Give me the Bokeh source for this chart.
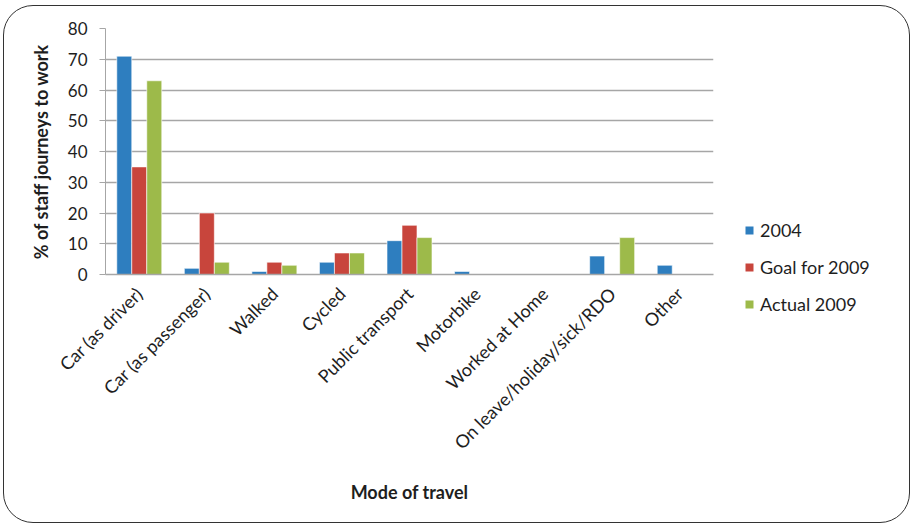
from bokeh.plotting import figure
from bokeh.models import ColumnDataSource, Legend, LegendItem, FactorRange, Range1d
from bokeh.layouts import row, column
from bokeh.transform import dodge
from bokeh.embed import file_html
from bokeh.resources import INLINE
import math

categories = ["Car (as driver)", "Car (as passenger)", "Walked", "Cycled",
              "Public transport", "Motorbike", "Worked at Home",
              "On leave/holiday/sick/RDO", "Other"]
series_names = ["2004", "Goal for 2009", "Actual 2009"]
v2004 = [71, 2, 1, 4, 11, 1, 0, 6, 3]
goal2009 = [35, 20, 4, 7, 16, 0, 0, 0, 0]
actual2009 = [63, 4, 3, 7, 12, 0, 0, 12, 0]
y_ticks = [0, 10, 20, 30, 40, 50, 60, 70, 80]

colors = ["#2e7ebf", "#c8453c", "#9dba4a"]
FONT = "Lato"
TXT = "#1e1e1e"

src = ColumnDataSource(dict(cat=categories, s0=v2004, s1=goal2009, s2=actual2009))

p = figure(width=724, height=516, x_range=FactorRange(*categories, range_padding=0),
           y_range=(0, 80), output_backend="svg", toolbar_location=None,
           min_border_left=101, min_border_right=15, min_border_top=22,
           min_border_bottom=248)
p.outline_line_color = None
p.background_fill_color = None
p.border_fill_color = None

bw = 0.222
for i, col in enumerate(["s0", "s1", "s2"]):
    p.vbar(x=dodge("cat", (i - 1) * bw, range=p.x_range), top=col, width=bw,
           source=src, fill_color=colors[i], line_color="white", line_width=0.6)

p.xgrid.grid_line_color = None
p.ygrid.grid_line_color = "#a6a6a6"
p.ygrid.grid_line_width = 1.3
p.yaxis.ticker = y_ticks
p.yaxis.axis_line_color = "#a6a6a6"
p.yaxis.major_tick_line_color = "#a6a6a6"
p.yaxis.major_tick_out = 6
p.yaxis.major_tick_in = 0
p.yaxis.minor_tick_line_color = None
p.yaxis.major_label_text_font = FONT
p.yaxis.major_label_text_font_size = "17px"
p.yaxis.major_label_text_color = TXT
p.yaxis.major_label_standoff = 12
p.yaxis.axis_label = "% of staff journeys to work"
p.yaxis.axis_label_text_font = FONT
p.yaxis.axis_label_text_font_style = "bold"
p.yaxis.axis_label_text_font_size = "18px"
p.yaxis.axis_label_text_color = TXT
p.yaxis.axis_label_standoff = 13

p.xaxis.axis_line_color = "#a6a6a6"
p.xaxis.axis_line_width = 1.3
p.xaxis.major_tick_line_color = None
p.xaxis.major_label_orientation = math.pi / 4
p.xaxis.major_label_text_font = FONT
p.xaxis.major_label_text_font_size = "18px"
p.xaxis.major_label_text_color = TXT
p.xaxis.major_label_standoff = 10
p.xaxis.axis_label = "Mode of travel"
p.xaxis.axis_label_text_font = FONT
p.xaxis.axis_label_text_font_style = "bold"
p.xaxis.axis_label_text_font_size = "18px"
p.xaxis.axis_label_text_color = TXT
p.xaxis.axis_label_standoff = 17

# legend panel: same series as proxies, drawn in a range where the bars are out of view
lp = figure(width=181, height=516, output_backend="svg", toolbar_location=None,
            min_border_left=0, min_border_right=0, min_border_top=0, min_border_bottom=0,
            x_range=FactorRange(*categories), y_range=Range1d(1000, 1001))
lp.axis.visible = False
lp.grid.visible = False
lp.outline_line_color = None
lp.background_fill_color = None
lp.border_fill_color = None
lr = [lp.vbar(x="cat", top=col, width=0.2, source=src, fill_color=c, line_color=None)
      for col, c in zip(["s0", "s1", "s2"], colors)]
legend = Legend(items=[LegendItem(label=n, renderers=[r]) for n, r in zip(series_names, lr)],
                location=(16, 207), orientation="vertical",
                glyph_width=10, glyph_height=10, label_text_font=FONT,
                label_text_font_size="18px", label_text_color=TXT,
                spacing=15, label_height=20, label_standoff=6,
                background_fill_alpha=0, border_line_color=None, padding=0, margin=0)
lp.add_layout(legend, "center")

layout = row(p, column(lp), spacing=0)
layout.styles = {"border": "1.5px solid #333333", "border-radius": "30px",
                 "box-sizing": "border-box", "overflow": "hidden",
                 "margin": "5px 0px 0px 3px"}

open("out.html", "w").write(file_html(layout, INLINE))
